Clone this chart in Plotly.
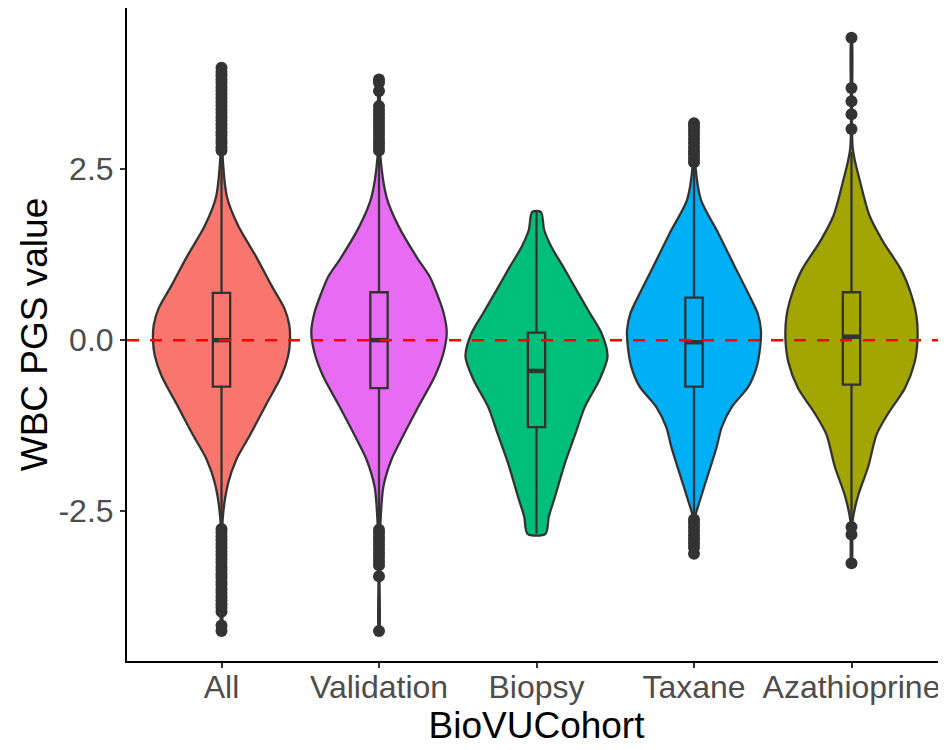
import plotly.graph_objects as go

categories = ["All", "Validation", "Biopsy", "Taxane", "Azathioprine"]
colors = ["#F8766D", "#E76BF3", "#00BF7D", "#00B0F6", "#A3A500"]

# violin density profiles (y level, half-width in category units)
all_y = [-4.25, -3.4, -2.6, -2.09, -1.74, -1.39, -0.93, -0.52, -0.23, 0.0, 0.225, 0.46, 0.80, 1.21, 1.67, 2.08, 2.65, 3.3, 3.98]
all_w = [0.002, 0.003, 0.008, 0.042, 0.095, 0.18, 0.286, 0.381, 0.423, 0.435, 0.43, 0.40, 0.317, 0.222, 0.106, 0.036, 0.008, 0.003, 0.002]

val_y = [-4.25, -3.45, -2.72, -2.14, -1.74, -1.39, -0.93, -0.52, -0.18, 0.11, 0.40, 0.69, 0.92, 1.21, 1.67, 2.08, 2.71, 3.81]
val_w = [0.002, 0.003, 0.008, 0.028, 0.08, 0.155, 0.26, 0.356, 0.41, 0.43, 0.41, 0.366, 0.324, 0.24, 0.123, 0.049, 0.008, 0.002]

bio_y = [-2.83, -2.58, -2.29, -1.80, -1.36, -0.975, -0.58, -0.24, 0.10, 0.39, 0.73, 1.07, 1.36, 1.61, 1.876]
bio_w = [0.057, 0.078, 0.117, 0.18, 0.248, 0.307, 0.40, 0.451, 0.413, 0.34, 0.254, 0.17, 0.095, 0.049, 0.027]

tax_y = [-3.12, -2.58, -2.34, -1.95, -1.56, -1.27, -0.975, -0.68, -0.39, -0.10, 0.146, 0.39, 0.68, 1.07, 1.56, 2.05, 2.56, 3.17]
tax_w = [0.002, 0.008, 0.038, 0.091, 0.144, 0.176, 0.24, 0.345, 0.398, 0.42, 0.425, 0.404, 0.345, 0.26, 0.155, 0.044, 0.008, 0.002]

aza_y = [-3.26, -2.63, -2.27, -1.85, -1.38, -1.07, -0.70, -0.33, 0.0, 0.345, 0.66, 1.02, 1.44, 1.81, 2.33, 2.80, 4.42]
aza_w = [0.002, 0.008, 0.042, 0.106, 0.159, 0.233, 0.34, 0.40, 0.419, 0.413, 0.38, 0.317, 0.20, 0.116, 0.053, 0.008, 0.002]

profiles_y = [all_y, val_y, bio_y, tax_y, aza_y]
profiles_w = [all_w, val_w, bio_w, tax_w, aza_w]

# box statistics
lower_fence = [-2.73, -2.74, -2.83, -2.58, -2.63]
q1 = [-0.68, -0.70, -1.27, -0.68, -0.65]
median = [0.0, 0.0, -0.45, -0.03, 0.05]
q3 = [0.69, 0.70, 0.11, 0.62, 0.70]
upper_fence = [2.74, 2.74, 1.876, 2.55, 2.75]

# outliers
all_out = [2.77, 2.82, 2.88, 2.93, 2.99, 3.04, 3.10, 3.15, 3.21, 3.26, 3.32, 3.37, 3.43, 3.48, 3.54, 3.59,
           3.65, 3.70, 3.76, 3.81, 3.87, 3.92, 3.98,
           -2.76, -2.81, -2.87, -2.92, -2.98, -3.03, -3.09, -3.14, -3.20, -3.25, -3.31, -3.36, -3.42, -3.47,
           -3.53, -3.58, -3.64, -3.69, -3.75, -3.80, -3.86, -3.91, -3.97, -4.17, -4.25]
val_out = [2.77, 2.83, 2.88, 2.94, 3.00, 3.06, 3.12, 3.18, 3.24, 3.30, 3.36, 3.42, 3.64, 3.76, 3.81,
           -2.77, -2.82, -2.88, -2.93, -2.99, -3.05, -3.11, -3.17, -3.23, -3.29, -3.45, -4.25]
bio_out = []
tax_out = [2.60, 2.65, 2.71, 2.76, 2.82, 2.88, 2.94, 3.00, 3.06, 3.12, 3.17,
           -2.62, -2.67, -2.73, -2.79, -2.85, -2.91, -2.97, -3.03, -3.12]
aza_out = [3.085, 3.30, 3.49, 3.686, 4.42, -2.73, -2.84, -3.26]
outliers = [all_out, val_out, bio_out, tax_out, aza_out]

y_ticks = [-2.5, 0.0, 2.5]
y_tick_text = ["-2.5", "0.0", "2.5"]

X_RANGE = [-0.6, 4.6]
Y_RANGE = [-4.689, 4.854]
BOX_W = 0.11
OUTLINE = "#333333"

fig = go.Figure()

# violins on the base axes
for i, cat in enumerate(categories):
    ys = profiles_y[i]
    ws = profiles_w[i]
    xs = [i - w for w in ws] + [i + w for w in ws[::-1]]
    yy = list(ys) + list(ys[::-1])
    xs.append(xs[0])
    yy.append(yy[0])
    fig.add_trace(go.Scatter(
        x=xs, y=yy, mode="lines", fill="toself", fillcolor=colors[i],
        line=dict(color=OUTLINE, width=2.3, shape="spline", smoothing=0.8),
        hoverinfo="skip", showlegend=False,
    ))

# boxplots on overlaying axes so they draw above the violins
for i, cat in enumerate(categories):
    fig.add_trace(go.Box(
        x=[i], q1=[q1[i]], median=[median[i]], q3=[q3[i]],
        lowerfence=[lower_fence[i]], upperfence=[upper_fence[i]],
        width=BOX_W, fillcolor=colors[i], line=dict(color=OUTLINE, width=2.3),
        whiskerwidth=0, boxpoints=False, showlegend=False, name=cat,
        xaxis="x2", yaxis="y2",
    ))

for i, cat in enumerate(categories):
    fig.add_trace(go.Scatter(
        x=[i - BOX_W / 2, i + BOX_W / 2], y=[median[i], median[i]], mode="lines",
        line=dict(color=OUTLINE, width=4.5), hoverinfo="skip", showlegend=False,
        xaxis="x2", yaxis="y2",
    ))
    if outliers[i]:
        fig.add_trace(go.Scatter(
            x=[i] * len(outliers[i]), y=outliers[i], mode="markers",
            marker=dict(color=OUTLINE, size=12, line=dict(width=0)),
            showlegend=False, xaxis="x2", yaxis="y2",
        ))

fig.add_shape(type="line", xref="paper", yref="y", x0=0, x1=1, y0=0, y1=0,
              line=dict(color="#FF0000", width=2.5, dash="12px,11px"), layer="above")

# the page body adds an 8px offset, so the figure is sized to fill the rest of the window
fig.update_layout(
    width=938, height=742,
    margin=dict(l=119, r=0, t=0, b=89),
    paper_bgcolor="white", plot_bgcolor="white",
    font=dict(family="Liberation Sans, Arial, sans-serif"),
    showlegend=False,
    xaxis=dict(
        range=X_RANGE, tickmode="array", tickvals=list(range(len(categories))), ticktext=categories,
        showgrid=False, zeroline=False, showline=True, linecolor="black", linewidth=2,
        ticks="outside", ticklen=5, tickwidth=1.5, tickcolor="#333333", automargin=False,
        ticklabelstandoff=-8,
        tickfont=dict(size=32, color="#4D4D4D"),
        title=dict(text="BioVUCohort", font=dict(size=37, color="black"), standoff=0),
    ),
    yaxis=dict(
        range=Y_RANGE, tickmode="array", tickvals=y_ticks, ticktext=y_tick_text,
        showgrid=False, zeroline=False, showline=True, linecolor="black", linewidth=2,
        ticks="outside", ticklen=5, tickwidth=1.5, tickcolor="#333333", automargin=False,
        tickfont=dict(size=32, color="#4D4D4D"),
        title=dict(text="WBC PGS value", font=dict(size=37, color="black"), standoff=0),
    ),
    xaxis2=dict(range=X_RANGE, overlaying="x", visible=False),
    yaxis2=dict(range=Y_RANGE, overlaying="y", visible=False),
)

fig.write_html("out.html")
